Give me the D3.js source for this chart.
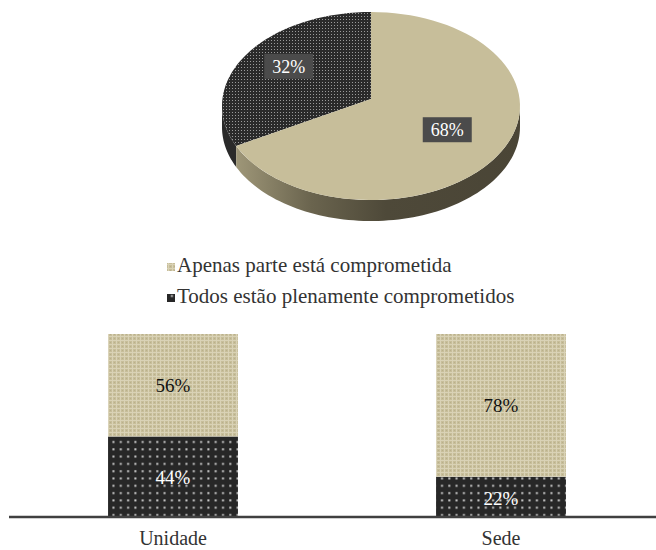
<!DOCTYPE html>
<html>
<head>
<meta charset="utf-8">
<script src="https://cdn.jsdelivr.net/npm/d3@7"></script>
<style>
  html, body { margin: 0; padding: 0; background: #fff; }
  svg { display: block; }
</style>
</head>
<body>
<svg id="chart" width="656" height="550"></svg>
<script>
// Overall split (pie)
const pieLabels = ["Todos estão plenamente comprometidos", "Apenas parte está comprometida"];
const pieValues = [32, 68];

// Legend entries
const legendLabels = ["Apenas parte está comprometida", "Todos estão plenamente comprometidos"];

// Split per location (stacked bars)
const categories = ["Unidade", "Sede"];
const fullyCommitted = [44, 22];
const partlyCommitted = [56, 78];

const FONT = "'Liberation Serif', 'Times New Roman', 'DejaVu Serif', serif";

const svg = d3.select("#chart").attr("font-family", FONT);
const defs = svg.append("defs");

// Fill patterns
const beigeBase = "#c7be9a";
const darkBase = "#272727";

const pb = defs.append("pattern").attr("id", "beige").attr("patternUnits", "userSpaceOnUse")
  .attr("width", 4).attr("height", 4);
pb.append("rect").attr("width", 4).attr("height", 4).attr("fill", beigeBase);
pb.append("rect").attr("x", 0).attr("y", 0).attr("width", 4).attr("height", 1).attr("fill", "#d9d2b6");
pb.append("rect").attr("x", 0).attr("y", 0).attr("width", 1).attr("height", 4).attr("fill", "#d9d2b6");
pb.append("rect").attr("x", 2).attr("y", 2).attr("width", 1).attr("height", 1).attr("fill", "#b9b08c");

const pd = defs.append("pattern").attr("id", "darkdots").attr("patternUnits", "userSpaceOnUse")
  .attr("width", 7.3).attr("height", 7.3);
pd.append("rect").attr("width", 7.3).attr("height", 7.3).attr("fill", darkBase);
pd.append("rect").attr("x", 3).attr("y", 3).attr("width", 2).attr("height", 2).attr("fill", "#c8c8c8");

const pf = defs.append("pattern").attr("id", "darkfine").attr("patternUnits", "userSpaceOnUse")
  .attr("width", 3).attr("height", 3);
pf.append("rect").attr("width", 3).attr("height", 3).attr("fill", "#2a2a2a");
pf.append("rect").attr("x", 1).attr("y", 1).attr("width", 1).attr("height", 1).attr("fill", "#9a9a9a");

const sideGrad = defs.append("linearGradient").attr("id", "side")
  .attr("gradientUnits", "userSpaceOnUse").attr("x1", 222).attr("x2", 520).attr("y1", 0).attr("y2", 0);
sideGrad.append("stop").attr("offset", "0%").attr("stop-color", "#a8a080");
sideGrad.append("stop").attr("offset", "30%").attr("stop-color", "#6a644e");
sideGrad.append("stop").attr("offset", "55%").attr("stop-color", "#4e4939");
sideGrad.append("stop").attr("offset", "100%").attr("stop-color", "#4a4536");

// ---- 3D pie ----
const cx = 371, cy = 106, rx = 149, ry = 94, depth = 21;
const vx = 371, vy = 99; // apex of slices on the tilted top face
const ex = a => cx + rx * Math.sin(a);
const ey = a => cy - ry * Math.cos(a);

// first slice ends at 12 o'clock, second runs clockwise from 12 o'clock
const startA = -2 * Math.PI * pieValues[0] / d3.sum(pieValues);
const arcs = d3.pie().sort(null).startAngle(startA).endAngle(startA + 2 * Math.PI)(pieValues);

function ellipsePoints(a0, a1, oy) {
  const n = 80, pts = [];
  for (let i = 0; i <= n; i++) {
    const a = a0 + (a1 - a0) * i / n;
    pts.push([ex(a), ey(a) + oy]);
  }
  return pts;
}

const pieG = svg.append("g");
const sideFills = ["#2a2a2a", "url(#side)"];
// side walls: only the front half (90deg..270deg) is visible
arcs.forEach((d, i) => {
  let s = d.startAngle, e = d.endAngle;
  if (e <= Math.PI / 2) { s += 2 * Math.PI; e += 2 * Math.PI; }
  const a0 = Math.max(s, Math.PI / 2), a1 = Math.min(e, 3 * Math.PI / 2);
  if (a1 <= a0) return;
  const top = ellipsePoints(a0, a1, 0);
  const bot = ellipsePoints(a1, a0, depth);
  pieG.append("path").attr("d", d3.line()(top.concat(bot)) + "Z").attr("fill", sideFills[i]);
});

const topFills = ["url(#darkfine)", beigeBase];
arcs.forEach((d, i) => {
  const pts = [[vx, vy]].concat(ellipsePoints(d.startAngle, d.endAngle, 0));
  pieG.append("path").attr("d", d3.line()(pts) + "Z").attr("fill", topFills[i]);
});

// pie value labels
arcs.forEach((d, i) => {
  const m = (d.startAngle + d.endAngle) / 2;
  const f = 0.63;
  const lx = vx + rx * f * Math.sin(m) - 3, ly = vy - ry * f * Math.cos(m) - 1;
  const g = pieG.append("g").attr("transform", `translate(${lx},${ly})`);
  g.append("rect").attr("x", -24.5).attr("y", -12.5).attr("width", 49).attr("height", 25).attr("fill", "#4b4b4b");
  g.append("text").attr("text-anchor", "middle").attr("dy", "0.35em").attr("fill", "#fff")
    .attr("font-family", FONT).attr("font-size", 18).text(d.data + "%");
});

// ---- legend ----
const legFills = ["url(#beige)", "url(#darkdots)"];
const leg = svg.append("g");
legendLabels.forEach((t, i) => {
  const base = 272 + i * 31;
  leg.append("rect").attr("x", 167).attr("y", base - 9).attr("width", 8).attr("height", 8).attr("fill", legFills[i]);
  leg.append("text").attr("x", 177).attr("y", base).attr("font-family", FONT)
    .attr("font-size", 21).attr("fill", "#333").text(t);
});

// ---- stacked bars ----
const x = d3.scaleBand().domain(categories).range([9, 665]).paddingInner(0.604).paddingOuter(0.302);
const y = d3.scaleLinear().domain([0, 100]).range([517, 334]);

const bars = svg.append("g");
categories.forEach((c, i) => {
  const x0 = x(c), w = x.bandwidth();
  const lo = fullyCommitted[i], hi = lo + partlyCommitted[i];
  bars.append("rect").attr("x", x0).attr("y", y(lo)).attr("width", w).attr("height", y(0) - y(lo)).attr("fill", "url(#darkdots)");
  bars.append("rect").attr("x", x0).attr("y", y(hi)).attr("width", w).attr("height", y(lo) - y(hi)).attr("fill", "url(#beige)");
  bars.append("text").attr("x", x0 + w / 2).attr("y", y(lo / 2) + 1).attr("dy", "0.35em").attr("text-anchor", "middle")
    .attr("font-family", FONT).attr("font-size", 19).attr("fill", "#fff").text(fullyCommitted[i] + "%");
  bars.append("text").attr("x", x0 + w / 2).attr("y", y(lo + partlyCommitted[i] / 2)).attr("dy", "0.35em").attr("text-anchor", "middle")
    .attr("font-family", FONT).attr("font-size", 19).attr("fill", "#111").text(partlyCommitted[i] + "%");
});

// category axis
const axis = svg.append("g").attr("transform", `translate(0,${y(0)})`)
  .call(d3.axisBottom(x).tickSize(0).tickPadding(14))
  .attr("font-family", FONT);
axis.select(".domain").remove();
axis.append("line").attr("x1", 9).attr("x2", 656).attr("y1", 0).attr("y2", 0)
  .attr("stroke", "#404040").attr("stroke-width", 2.5);
axis.selectAll(".tick text").attr("font-size", 20).attr("font-family", FONT).attr("fill", "#333");
</script>
</body>
</html>
